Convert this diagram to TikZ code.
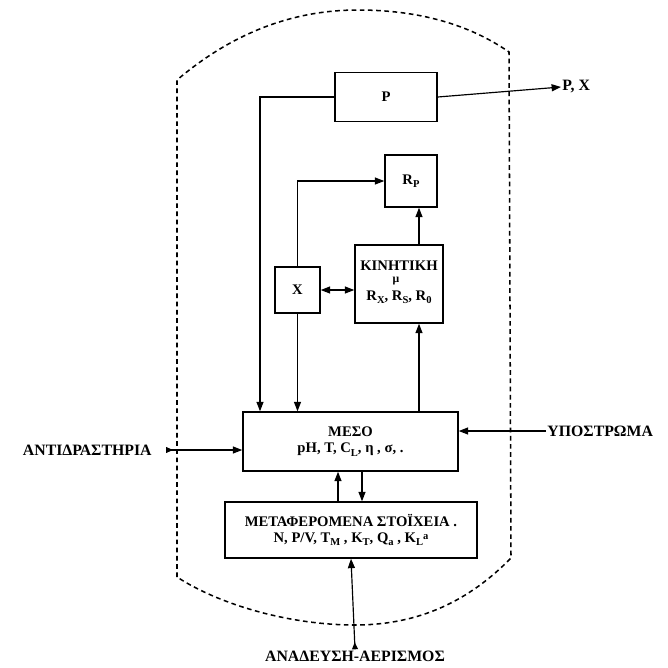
\documentclass[tikz,border=0pt]{standalone}
\usepackage{fontspec}
\setmainfont{Liberation Serif}
\usetikzlibrary{arrows.meta}
\newcommand\lsub[1]{\raisebox{-0.5ex}{\fontsize{9}{9}\selectfont #1}}
\newcommand\lsup[1]{\raisebox{0.4ex}{\fontsize{9}{9}\selectfont #1}}
\begin{document}
\begin{tikzpicture}[x=0.03cm,y=-0.03cm,
  box/.style={draw,line width=1.3pt,inner sep=0pt,align=center,font=\fontsize{12.5}{14}\selectfont\bfseries},
  btxt/.style={inner sep=0pt,font=\fontsize{12.5}{14}\selectfont\bfseries},
  conn/.style={line width=1pt},
  arr/.style={conn,-{Triangle[length=8pt,width=6pt]}},
  darr/.style={conn,{Triangle[length=8pt,width=6pt]}-{Triangle[length=8pt,width=6pt]}},
  tarr/.style={conn,{Triangle[length=6pt,width=5pt,reversed]}-{Triangle[length=8pt,width=6pt]}},
  lbl/.style={font=\fontsize{13.5}{15}\selectfont\bfseries,inner sep=1pt},
  vessel/.style={line width=1.3pt,dash pattern=on 4pt off 3pt}]
\useasboundingbox (0,0) rectangle (668,667);
\fill[white] (0,0) rectangle (668,667);
% vessel
\draw[vessel] (177,577) -- (177,80)
  .. controls (230,35) and (290,10) .. (358,10)
  .. controls (420,10) and (470,25) .. (509,52)
  -- (511,558)
  .. controls (470,600) and (420,625) .. (355,625)
  .. controls (290,625) and (220,605) .. (177,577);
% boxes
\node[box,minimum width=3.06cm,minimum height=1.47cm] (P) at (386,97) {P};
\node[box,minimum width=1.56cm,minimum height=1.56cm] (Rp) at (411,181) {R\lsub{P}};
\node[box,minimum width=1.35cm,minimum height=1.38cm] (X) at (297.5,290) {X};
\node[box,minimum width=2.64cm,minimum height=2.34cm] (K) at (399,284) {};
\node[btxt] (K1) at (399,266) {ΚΙΝΗΤΙΚΗ};
\node[btxt,font=\fontsize{10}{10}\selectfont\bfseries] (K2) at (396,281) {μ};
\node[btxt] (K3) at (399,297) {R\lsub{X}, R\lsub{S}, R\lsub{0}};
\node[box,minimum width=6.45cm,minimum height=1.77cm] (M) at (350.5,441.5) {ΜΕΣΟ\\ pH, T, C\lsub{L}, η , σ, .};
\node[box,minimum width=7.56cm,minimum height=1.68cm] (T) at (351,530) {ΜΕΤΑΦΕΡΟΜΕΝΑ ΣΤΟΪΧΕΙΑ .\\ N, P/V, T\lsub{M} , K\lsub{T}, Q\lsub{a} , K\lsub{L}\lsup{a}};
% outer labels
\node[lbl,anchor=west] (PX) at (561,87) {P, X};
\node[lbl,anchor=east] (anti) at (153,450) {ΑΝΤΙΔΡΑΣΤΗΡΙΑ};
\node[lbl,anchor=west] (ypo) at (546,431) {ΥΠΟΣΤΡΩΜΑ};
\node[lbl] (anad) at (355,656) {ΑΝΑΔΕΥΣΗ-ΑΕΡΙΣΜΟΣ};
\coordinate (fbx) at (260,0);
\coordinate (kx) at (419,0);
\coordinate (upx) at (338,0);
\coordinate (dnx) at (362,0);
\coordinate (antiS) at (166,450);
% connectors
\draw[arr] (P.east) -- (PX.west);
\draw[arr] (P.west) -| (fbx |- M.north);
\draw[arr] (X.north) |- (Rp.west);
\draw[arr] (kx |- K.north) -- (kx |- Rp.south);
\draw[darr] (X.east) -- (K.west |- X.east);
\draw[arr] (X.south) -- (X.south |- M.north);
\draw[arr] (kx |- M.north) -- (kx |- K.south);
\draw[arr] (upx |- T.north) -- (upx |- M.south);
\draw[arr] (dnx |- M.south) -- (dnx |- T.north);
\draw[tarr] (antiS) -- (M.west |- antiS);
\draw[arr] (ypo.west) -- (M.east |- ypo.west);
\draw[tarr] (anad.north) -- (T.south);
\end{tikzpicture}
\end{document}
